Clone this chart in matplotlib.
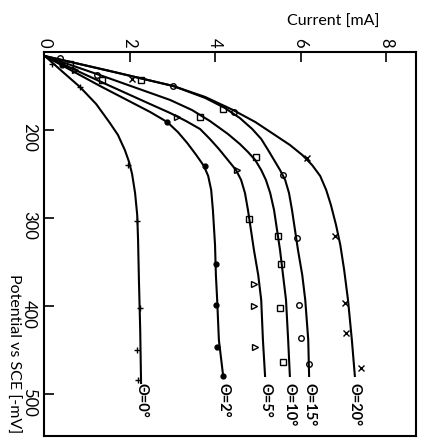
import matplotlib
matplotlib.use("Agg")
import matplotlib.pyplot as plt

FONT = ['Lato', 'DejaVu Sans']
plt.rcParams['font.family'] = FONT

# fitted curves: current [mA] vs potential [-mV]
c0 = [0.02, 0.44, 0.84, 1.22, 1.54, 1.73, 1.89, 1.99, 2.06, 2.13, 2.18, 2.20, 2.22, 2.25, 2.27]
p0 = [116, 134.1, 151.1, 170.5, 192, 205.7, 222.7, 236.4, 250, 271.6, 296.6, 325, 370.5, 427.3, 487.5]

c2 = [0.02, 1.31, 2.48, 2.88, 3.13, 3.35, 3.56, 3.74, 3.84, 3.91, 3.95, 4.00, 4.02, 4.05, 4.09, 4.19]
p2 = [116, 150, 179.5, 190.9, 202.3, 214.8, 228.4, 240.9, 252.3, 268.2, 290.9, 330.7, 364.8, 393.2, 438.6, 479.5]

c5 = [0.02, 1.50, 2.48, 2.95, 3.32, 3.65, 3.88, 4.09, 4.30, 4.49, 4.61, 4.70, 4.77, 4.84, 4.91, 5.01, 5.08, 5.12, 5.17]
p5 = [116, 149, 170.5, 180.7, 189.8, 198.9, 210.2, 221.6, 234.1, 245.5, 256.8, 271.6, 290.9, 313.6, 336.4, 364.8, 393.2, 438.6, 479.5]

c10 = [0.02, 1.50, 2.95, 3.46, 3.88, 4.30, 4.58, 4.77, 4.94, 5.08, 5.19, 5.29, 5.38, 5.45, 5.52, 5.59, 5.66, 5.71, 5.75]
p10 = [116, 140.9, 165.9, 177.3, 189.8, 204.5, 215.9, 225, 234.1, 245.5, 256.8, 271.6, 290.9, 313.6, 336.4, 364.8, 393.2, 438.6, 479.5]

c15 = [0.02, 1.54, 3.02, 3.77, 4.23, 4.58, 4.87, 5.08, 5.24, 5.38, 5.52, 5.64, 5.73, 5.80, 5.87, 5.94, 6.04, 6.11, 6.18, 6.20]
p15 = [116, 133, 150, 163.6, 175, 186.4, 198.9, 210.2, 222.7, 234.1, 245.5, 256.8, 271.6, 290.9, 313.6, 336.4, 364.8, 393.2, 438.6, 479.5]

c20 = [0.02, 1.54, 3.02, 3.77, 4.42, 4.94, 5.40, 5.75, 6.04, 6.27, 6.46, 6.60, 6.71, 6.83, 6.93, 7.02, 7.11, 7.20, 7.27]
p20 = [116, 133, 150, 162.5, 177.3, 190.9, 205.7, 217, 228.4, 239.8, 252.3, 268.2, 285.2, 308, 330.7, 359.1, 393.2, 438.6, 479.5]

# measured points
m0_c = [0.19, 0.84, 1.96, 2.18, 2.25, 2.18, 2.20]
m0_p = [125, 151, 239.8, 303.4, 402.3, 450, 484.1]
m2_c = [0.42, 2.88, 3.77, 4.02, 4.02, 4.05, 4.19]
m2_p = [126.1, 190.9, 240.9, 352.3, 398.9, 446.6, 479.5]
m5_c = [0.73, 3.11, 4.51, 4.91, 4.91, 4.94]
m5_p = [131.8, 185.2, 246, 375, 400, 446.6]
m10_c = [0.61, 1.36, 2.27, 3.65, 4.19, 4.80, 4.96, 5.47, 5.54, 5.52, 5.59]
m10_p = [125, 143.2, 143.2, 185.2, 176.1, 301.1, 230.7, 320.5, 352.3, 402.3, 463.6]
m15_c = [0.37, 1.24, 3.02, 4.44, 5.59, 5.92, 5.96, 6.01, 6.20]
m15_p = [118.2, 137.5, 150, 179.5, 251.1, 322.7, 398.9, 436.4, 465.9]
m20_c = [2.06, 6.15, 6.81, 7.04, 7.06, 7.42]
m20_p = [142, 231.8, 320.5, 396.6, 430.7, 470.5]

labels = ['Θ=0°', 'Θ=2°', 'Θ=5°', 'Θ=10°', 'Θ=15°', 'Θ=20°']
curves = [(c0, p0), (c2, p2), (c5, p5), (c10, p10), (c15, p15), (c20, p20)]
points = [(m0_c, m0_p, '+', 'k'), (m2_c, m2_p, 'o', 'k'), (m5_c, m5_p, '>', 'none'),
          (m10_c, m10_p, 's', 'none'), (m15_c, m15_p, 'o', 'none'), (m20_c, m20_p, 'x', 'k')]

fig = plt.figure(figsize=(4.24, 4.43), dpi=100)
ax = fig.add_axes([44/424, 1 - 436/443, 372/424, 384/443])

for (c, p) in curves:
    ax.plot(c, p, color='k', lw=1.5, solid_joinstyle='round')

for (mc, mp, mk, fc) in points:
    ms = 4 if mk in ('o', 's', '>') else 4.5
    if mk == 'o' and fc == 'k':
        ms = 3.5
    ax.plot(mc, mp, ls='none', marker=mk, ms=ms, mfc=fc, mec='k', mew=1.0)

for (c, p), lab in zip(curves, labels):
    ax.text(c[-1], 488, lab, rotation=-90, ha='center', va='top',
            fontsize=10.5, fontweight='bold', family=FONT)

ax.set_xlim(0, 8.70)
ax.set_ylim(547.7, 111.4)
ax.xaxis.tick_top()
ax.set_xticks([0, 2, 4, 6, 8])
ax.set_yticks([200, 300, 400, 500])
ax.tick_params(axis='both', direction='in', length=7, width=1.2, labelsize=12)
ax.tick_params(axis='x', labelrotation=-90, pad=3)
ax.tick_params(axis='y', labelrotation=-90, pad=5)
for sp in ax.spines.values():
    sp.set_linewidth(1.5)

fig.text(333/424, 1 - 22/443, 'Current [mA]', ha='center', va='center', fontsize=11.5)
fig.text(13/424, 1 - 354/443, 'Potential vs SCE [-mV]', rotation=-90,
         ha='center', va='center', fontsize=11.5)

fig.savefig('out.png', dpi=100)
